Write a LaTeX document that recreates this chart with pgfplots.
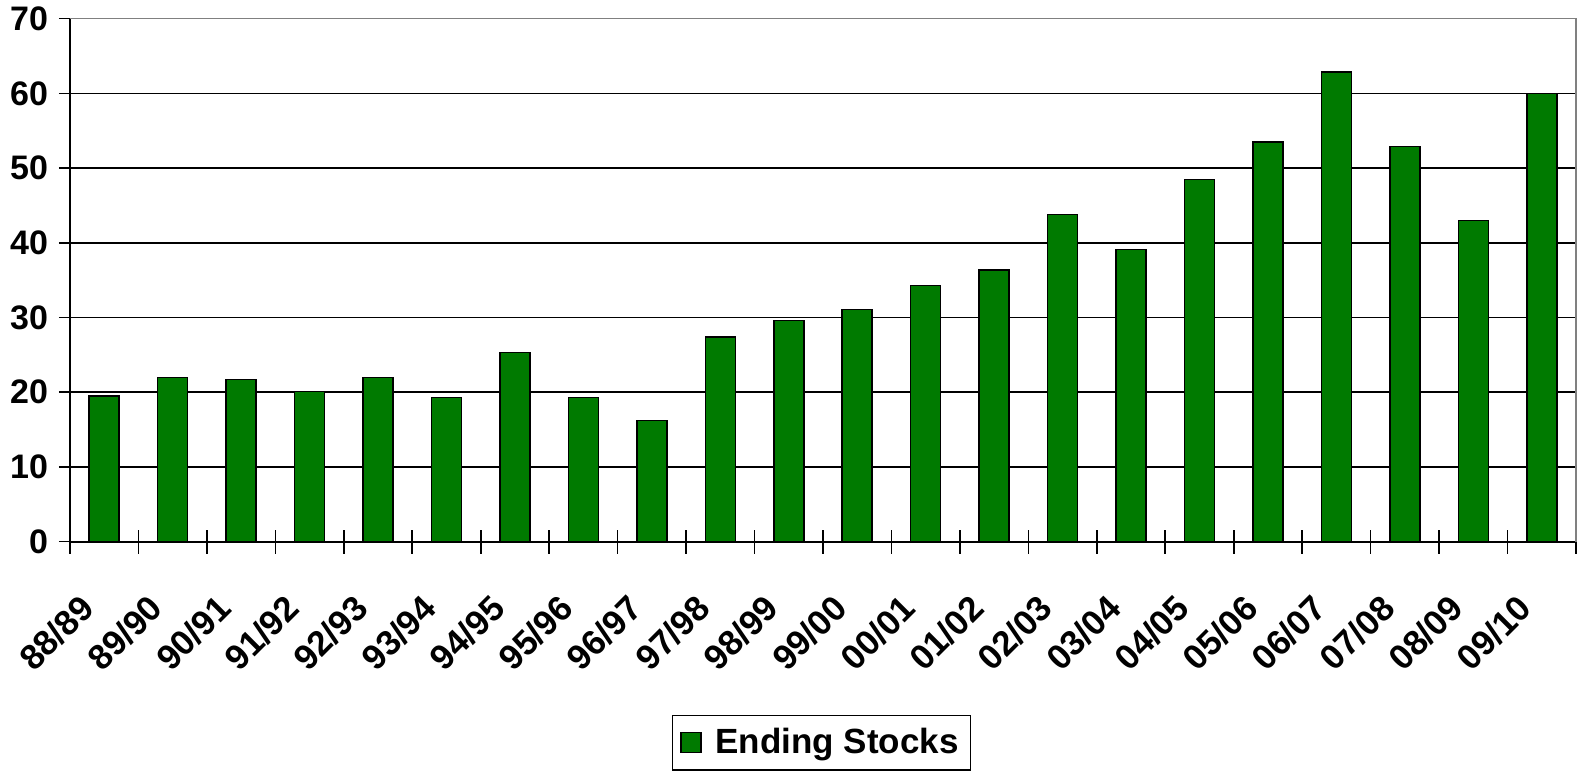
\documentclass[border=0pt]{standalone}
\usepackage{pgfplots}
\pgfplotsset{compat=1.18}
\usepackage{fontspec}
\setmainfont{Liberation Sans}
\definecolor{barg}{RGB}{0,122,0}
\begin{document}
\begin{tikzpicture}
\begin{axis}[
  name=ax,
  scale only axis,
  width=753pt, height=261.5pt,
  xmin=-0.5, xmax=21.5,
  ymin=0, ymax=70,
  ytick={0,10,...,70},
  xtick={0,...,21},
  xticklabels={88/89,89/90,90/91,91/92,92/93,93/94,94/95,95/96,96/97,97/98,98/99,99/00,00/01,01/02,02/03,03/04,04/05,05/06,06/07,07/08,08/09,09/10},
  minor xtick={-0.5,0.5,...,21.5},
  axis x line*=bottom,
  axis y line*=left,
  axis line style={black, line width=0.9pt},
  ymajorgrids,
  grid style={black, line width=0.8pt},
  major tick length=5.5pt,
  minor tick length=12pt,
  x tick style={draw=none},
  minor x tick style={draw=black, line width=0.8pt},
  y tick style={black, line width=0.8pt},
  /pgf/number format/assume math mode=true,
  tick label style={font=\bfseries\fontsize{17}{20}\selectfont},
  yticklabel style={xshift=-2pt},
  xticklabel style={font=\bfseries\fontsize{17.5}{20}\selectfont, inner sep=0pt, xshift=-13pt, yshift=-22.5pt, rotate=45, anchor=north east},
  ybar, bar width=15pt,
  legend style={at={(0.499,-0.331)}, anchor=north, draw=black, line width=0.8pt,
    font=\bfseries\fontsize{17.5}{20}\selectfont, inner xsep=4pt, inner ysep=4.5pt, column sep=5pt, legend cell align=left},
  legend image code/.code={\draw[#1, fill=barg, draw=black, line width=0.6pt] (0cm,-5pt) rectangle (10pt,5pt);},
  tick align=outside,
  xtick align=center,
]
\addplot[fill=barg, draw=black, line width=0.8pt] coordinates {
(0,19.5) (1,22.0) (2,21.7) (3,20.1) (4,22.0) (5,19.3) (6,25.3) (7,19.3) (8,16.2) (9,27.4) (10,29.6) (11,31.1)
(12,34.3) (13,36.4) (14,43.8) (15,39.1) (16,48.5) (17,53.5) (18,62.9) (19,52.9) (20,43.0) (21,60.0)};
\addlegendentry{Ending Stocks}
\end{axis}
\draw[gray, line width=0.8pt] (ax.north west) -- (ax.north east) -- (ax.south east);
\path (ax.south west) ++(-35pt,-115.5pt) (ax.north east) ++(1.5pt,7.5pt);
\end{tikzpicture}
\end{document}
